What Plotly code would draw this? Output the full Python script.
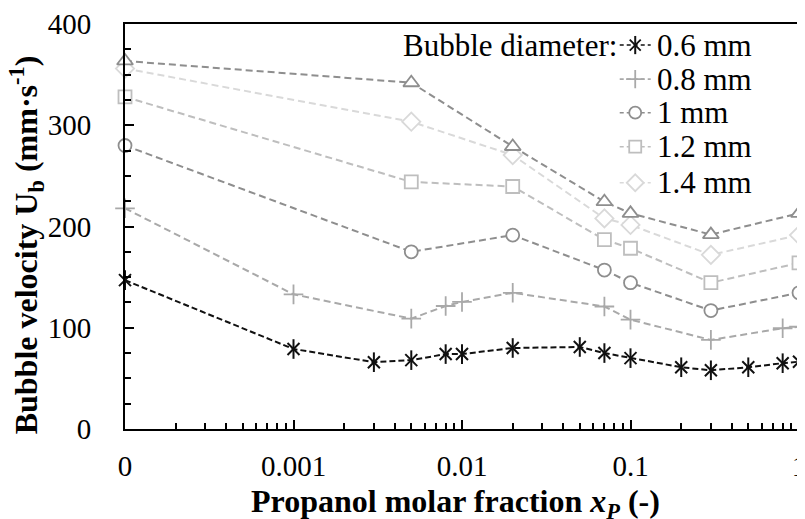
import plotly.graph_objects as go

# x = 0 is drawn at 1e-4 on the log axis (labelled "0")
x_tickvals = [1e-4, 1e-3, 1e-2, 1e-1, 1]
x_ticktext = ["0", "0.001", "0.01", "0.1", "1"]
y_tickvals = [0, 100, 200, 300, 400]

x_06 = [1e-4, 0.001, 0.003, 0.005, 0.008, 0.01, 0.02, 0.05, 0.07, 0.1, 0.2, 0.3, 0.5, 0.8, 1]
u_06 = [147, 79, 66, 68, 74, 74, 80, 81, 75, 70, 61, 58, 61, 65, 66.5]

x_08 = [1e-4, 0.001, 0.005, 0.008, 0.01, 0.02, 0.07, 0.1, 0.3, 0.8, 1]
u_08 = [218, 133, 109, 121.5, 125.5, 134.5, 121, 108, 88, 99.5, 101]

x_big = [1e-4, 0.005, 0.02, 0.07, 0.1, 0.3, 1]
u_10 = [280, 175, 191.5, 157, 144.5, 117, 134.5]
u_12 = [328, 244, 239.5, 187, 178.5, 144.5, 164]
u_14 = [356, 303.5, 270.5, 208, 201.5, 172, 191.5]
u_16 = [363.5, 342, 279, 224.5, 213, 192, 213]

legend_names = ["0.6 mm", "0.8 mm", "1 mm", "1.2 mm", "1.4 mm"]
legend_title = "Bubble diameter:"

FONT = "Liberation Serif, Times New Roman, serif"
BLACK = "#111111"
DASH = "7px,4px"

fig = go.Figure()

def add_series(x, y, color, symbol, size=13):
    fig.add_trace(go.Scatter(
        x=x, y=y, mode="lines+markers", showlegend=False,
        line=dict(color=color, width=2, dash=DASH),
        marker=dict(symbol=symbol, size=size, color="white",
                    line=dict(color=color, width=1.8)),
        cliponaxis=False,
    ))

add_series(x_big, u_14, "#d9d9d9", "diamond", size=14)
add_series(x_big, u_12, "#bebebe", "square")
add_series(x_big, u_16, "#8e8e8e", "triangle-up", size=14)
add_series(x_big, u_10, "#8e8e8e", "circle")
add_series(x_08, u_08, "#a9a9a9", "cross-thin", size=14)

# 0.6 mm: six-armed asterisk = x + vertical bar
fig.add_trace(go.Scatter(
    x=x_06, y=u_06, mode="lines+markers", showlegend=False,
    line=dict(color=BLACK, width=2, dash="6px,3px"),
    marker=dict(symbol="x-thin", size=12, line=dict(color=BLACK, width=2)),
    cliponaxis=False,
))
fig.add_trace(go.Scatter(
    x=x_06, y=u_06, mode="markers", showlegend=False, hoverinfo="skip",
    marker=dict(symbol="line-ns", size=14, line=dict(color=BLACK, width=2)),
    cliponaxis=False,
))

# ---- hand-made legend on an overlay axis (0..1 in both directions) ----
leg_colors = [BLACK, "#a9a9a9", "#8e8e8e", "#bebebe", "#d9d9d9"]
leg_symbols = ["x-thin", "cross-thin", "circle", "square", "diamond"]
leg_sizes = [11, 13, 12, 12, 13]
leg_rows = [0.948, 0.864, 0.781, 0.697, 0.608]
seg_x0, seg_mid, seg_x1, txt_x = 0.734, 0.757, 0.780, 0.786

for name, col, sym, sz, ry in zip(legend_names, leg_colors, leg_symbols, leg_sizes, leg_rows):
    fig.add_trace(go.Scatter(
        x=[seg_x0, seg_x1], y=[ry, ry], xaxis="x2", yaxis="y2",
        mode="lines", showlegend=False, hoverinfo="skip",
        line=dict(color=col, width=1.6, dash="4px,3px"),
    ))
    fill = "white" if sym in ("circle", "square", "diamond") else col
    fig.add_trace(go.Scatter(
        x=[seg_mid], y=[ry], xaxis="x2", yaxis="y2",
        mode="markers", showlegend=False, hoverinfo="skip",
        marker=dict(symbol=sym, size=sz, color=fill, line=dict(color=col, width=1.8)),
    ))
    if sym == "x-thin":
        fig.add_trace(go.Scatter(
            x=[seg_mid], y=[ry], xaxis="x2", yaxis="y2",
            mode="markers", showlegend=False, hoverinfo="skip",
            marker=dict(symbol="line-ns", size=13, line=dict(color=col, width=2)),
        ))
    fig.add_annotation(
        text=name, xref="x2", yref="y2", x=txt_x, y=ry,
        xanchor="left", yanchor="middle", showarrow=False,
        font=dict(family=FONT, size=31, color="black"),
    )

fig.add_annotation(
    text=legend_title, xref="x2", yref="y2", x=0.733, y=leg_rows[0],
    xanchor="right", yanchor="middle", showarrow=False,
    font=dict(family=FONT, size=31, color="black"),
)

# axis titles as annotations for exact placement
fig.add_annotation(
    text="<b>Propanol molar fraction <i>x<sub>P</sub></i> (-)</b>",
    xref="paper", yref="paper", x=0.49, y=-0.183,
    xanchor="center", yanchor="middle", showarrow=False,
    font=dict(family=FONT, size=32, color="black"),
)
fig.add_annotation(
    text="<b>Bubble velocity U<sub>b</sub> (mm·s<sup>-1</sup>)</b>",
    xref="paper", yref="paper", x=-0.146, y=0.455, textangle=-90,
    xanchor="center", yanchor="middle", showarrow=False,
    font=dict(family=FONT, size=32, color="black"),
)

minor_x = [d * 10.0 ** e for e in range(-4, 0) for d in range(2, 10)]

# page body has an 8px default margin, so the plot area is offset to compensate
fig.update_layout(
    width=805, height=519,
    margin=dict(l=117, r=14, t=16, b=98, autoexpand=False),
    paper_bgcolor="white", plot_bgcolor="white",
    font=dict(family=FONT, size=28, color="black"),
    showlegend=False,
    xaxis2=dict(overlaying="x", range=[0, 1], visible=False, fixedrange=True,
                automargin=False),
    yaxis2=dict(overlaying="y", range=[0, 1], visible=False, fixedrange=True,
                automargin=False),
)

fig.layout.xaxis.update(
    type="log", range=[-4, 0], automargin=False,
    tickmode="array", tickvals=x_tickvals, ticktext=x_ticktext,
    ticks="inside", ticklen=9, tickwidth=1.5, tickcolor="black",
    minor=dict(tickmode="array", tickvals=minor_x, ticks="inside", ticklen=6,
               tickwidth=1.5, tickcolor="black", showgrid=False),
    showline=True, linewidth=2, linecolor="black", mirror=True,
    showgrid=False, zeroline=False,
    ticklabelstandoff=10,
    tickfont=dict(family=FONT, size=29),
)
fig.layout.yaxis.update(
    range=[0, 400], tickmode="array", tickvals=y_tickvals, automargin=False,
    ticks="inside", ticklen=9, tickwidth=1.5, tickcolor="black",
    minor=dict(dtick=25, ticks="inside", ticklen=6, tickwidth=1.5,
               tickcolor="black", showgrid=False),
    showline=True, linewidth=2, linecolor="black", mirror=True,
    showgrid=False, zeroline=False,
    ticklabelstandoff=26,
    tickfont=dict(family=FONT, size=29),
)

fig.write_html("out.html")
